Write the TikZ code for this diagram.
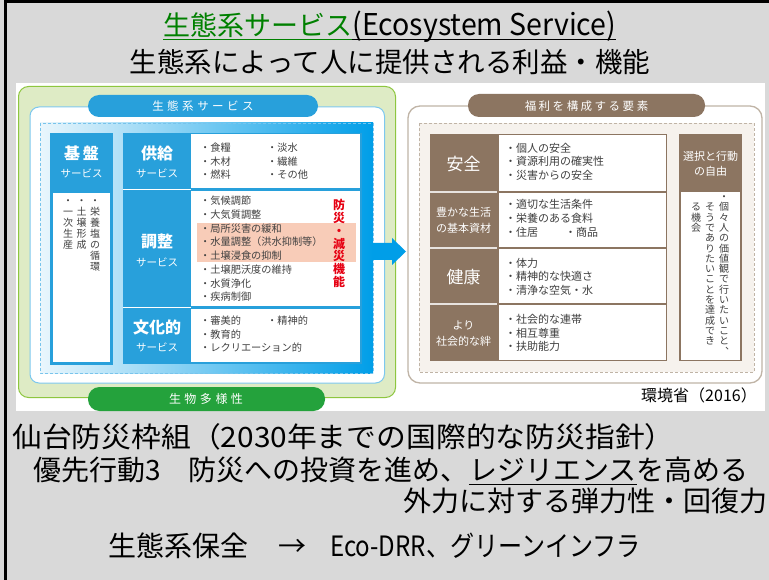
\documentclass[tikz,border=0pt]{standalone}
\usepackage{fontspec}
\setmainfont{Noto Sans CJK JP}
\usetikzlibrary{calc}
\definecolor{slidegray}{RGB}{217,217,217}
\definecolor{ttlgreen}{RGB}{0,128,0}
\definecolor{pgreenfill}{RGB}{222,235,197}
\definecolor{pgreenline}{RGB}{141,198,63}
\definecolor{esblue}{RGB}{40,160,219}
\definecolor{esdeep}{RGB}{0,158,232}
\definecolor{eslight}{RGB}{234,246,252}
\definecolor{esdash}{RGB}{120,196,236}
\definecolor{esline}{RGB}{125,200,238}
\definecolor{bioGreen}{RGB}{36,162,60}
\definecolor{brn}{RGB}{140,117,97}
\definecolor{brnline}{RGB}{192,180,166}
\definecolor{brnfill}{RGB}{246,242,237}
\definecolor{pinkhl}{RGB}{248,204,184}
\definecolor{redtxt}{RGB}{230,0,18}
\definecolor{txtgray}{RGB}{64,64,64}
\newcommand\ls{\hspace{3.5pt}}
\tikzset{
  lbl/.style={inner sep=0pt, font=\bfseries\fontsize{16}{18}\selectfont, text=white},
  sublbl/.style={inner sep=0pt, font=\fontsize{10.5}{12}\selectfont, text=white},
  item/.style={inner sep=0pt, anchor=west, font=\fontsize{10.2}{12}\selectfont, text=txtgray, text height=9pt, text depth=1.2pt},
  ritem/.style={inner sep=0pt, anchor=west, font=\fontsize{11}{13}\selectfont, text=txtgray, text height=9.7pt, text depth=1.3pt},
  rlbl/.style={inner sep=0pt, font=\fontsize{17}{19}\selectfont, text=white},
  rlbs/.style={inner sep=0pt, align=center, font=\fontsize{11}{15.5}\selectfont, text=white},
  vst/.style={inner sep=0pt, anchor=north, align=center, font=\fontsize{10}{11}\selectfont, text=txtgray},
  vstb/.style={inner sep=0pt, anchor=north, align=center, font=\fontsize{10}{10.3}\selectfont, text=txtgray},
  tabtxt/.style={inner sep=0pt, font=\fontsize{11.5}{13}\selectfont, text=white},
  big/.style={inner sep=0pt, font=\fontsize{28}{32}\selectfont, text=black},
}
\begin{document}
\begin{tikzpicture}[x=1pt,y=-1pt]
\useasboundingbox (0,0) rectangle (769,580);
\fill[slidegray] (0,0) rectangle (769,580);
\draw[line width=2.5pt] (5.3,580) -- (5.3,1.5) -- (769,1.5);

% title
\node[inner sep=0pt, anchor=base west, font=\fontsize{27}{30}\selectfont, text=ttlgreen] (t1a) at (163,35.3) {生態系サービス};
\node[inner sep=0pt, anchor=base west, font=\fontsize{30}{32}\selectfont] (t1b) at (t1a.base east) {\scalebox{0.95}[1]{(Ecosystem Service)}};
\draw[ttlgreen, line width=1.3pt] ($(t1a.base west)+(0,4.5)$) -- ($(t1a.base east)+(0,4.5)$);
\draw[black, line width=1.3pt] ($(t1b.base west)+(0,4.5)$) -- ($(t1b.base east)+(0,4.5)$);
\node[inner sep=0pt, anchor=base, font=\fontsize{27.5}{30}\selectfont] (t2) at (390,72.5) {生態系によって人に提供される利益・機能};

% embedded figure background
\fill[white] (16,83) rectangle (765,411);

% ---------- left panel ----------
\filldraw[fill=pgreenfill, draw=pgreenline, line width=1pt, rounded corners=10pt] (18.5,86.5) rectangle (395.5,397.5);
\filldraw[fill=white, draw=esline, line width=1pt, rounded corners=9pt] (30,107) rectangle (384.5,383);
\fill[esblue, rounded corners=11pt] (88,95) rectangle (318,117);
\node[tabtxt] (tabES) at (203,106) {生\ls 態\ls 系\ls サ\ls ー\ls ビ\ls ス};

\fill[left color=eslight, right color=esdeep] (40,123) rectangle (373,373);
\draw[esdash, line width=0.8pt, dash pattern=on 3pt off 2pt] (40,123) rectangle (373,373);

% kiban column
\fill[esblue] (50,133) rectangle (113,365);
\fill[white] (53,193) rectangle (110,362);
\node[lbl] (kiban) at (81.5,153) {基\hspace{3pt}盤};
\node[sublbl] (kiban2) at (81.5,173.5) {サービス};
\node[vst] (k1) at (95,196) {\vphantom{栄}・\\栄\\養\\塩\\の\\循\\環};
\node[vst] (k2) at (81.5,196) {\vphantom{栄}・\\土\\壌\\形\\成};
\node[vst] (k3) at (68,196) {\vphantom{栄}・\\一\\次\\生\\産};

% big block
\fill[esblue] (123,133) rectangle (362,364);
\fill[white] (191,134.5) rectangle (360,188);
\fill[white] (191,191) rectangle (360,306);
\fill[white] (191,309) rectangle (360,361.5);
\draw[white, line width=1.5pt] (123,189.5) -- (191,189.5);
\draw[white, line width=1.5pt] (123,307.5) -- (191,307.5);
\fill[pinkhl] (197,223.5) rectangle (356,262);

\node[lbl] (kyo) at (157,153) {供給};
\node[sublbl] (kyo2) at (157,173) {サービス};
\node[lbl] (cho) at (157,241) {調整};
\node[sublbl] (cho2) at (157,262) {サービス};
\node[lbl] (bun) at (157,327) {文化的};
\node[sublbl] (bun2) at (157,347) {サービス};

\node[item] (s1) at (200,148) {・食糧};
\node[item] (s2) at (200,161.5) {・木材};
\node[item] (s3) at (200,175) {・燃料};
\node[item] (s4) at (267,148) {・淡水};
\node[item] (s5) at (267,161.5) {・繊維};
\node[item] (s6) at (267,175) {・その他};

\node[item] (r1) at (200,201) {・気候調節};
\node[item] (r2) at (200,214.7) {・大気質調整};
\node[item] (r3) at (200,228.4) {・局所災害の緩和};
\node[item] (r4) at (200,242.1) {・水量調整（洪水抑制等）};
\node[item] (r5) at (200,255.8) {・土壌浸食の抑制};
\node[item] (r6) at (200,269.5) {・土壌肥沃度の維持};
\node[item] (r7) at (200,283.2) {・水質浄化};
\node[item] (r8) at (200,296.9) {・疾病制御};
\node[inner sep=0pt, anchor=north, align=center, font=\bfseries\fontsize{12}{12.7}\selectfont, text=redtxt] (bousai) at (339,199.5) {防\\災\\・\\減\\災\\機\\能};

\node[item] (c1) at (200,321) {・審美的};
\node[item] (c2) at (267,321) {・精神的};
\node[item] (c3) at (200,334.5) {・教育的};
\node[item] (c4) at (200,348) {・レクリエーション的};

% arrow
\fill[esdeep] (372,243) -- (392,243) -- (392,238) -- (406,251.5) -- (392,265) -- (392,260) -- (372,260) -- cycle;

% biodiversity tab
\fill[bioGreen, rounded corners=11.5pt] (88,387) rectangle (325,411);
\node[tabtxt, font=\fontsize{12}{13}\selectfont] (bio) at (206,399) {生\ls 物\ls 多\ls 様\ls 性};

% ---------- right panel ----------
\filldraw[fill=white, draw=brnline, line width=1.3pt, rounded corners=12pt] (408,106) rectangle (762,383);
\fill[brn, rounded corners=11pt] (468,94) rectangle (705,117);
\node[tabtxt] (tabWB) at (586.5,106) {福\hspace{2.5pt}利\hspace{2.5pt}を\hspace{2.5pt}構\hspace{2.5pt}成\hspace{2.5pt}す\hspace{2.5pt}る\hspace{2.5pt}要\hspace{2.5pt}素};
\filldraw[fill=brnfill, draw=brnline, line width=0.9pt, dash pattern=on 3pt off 2pt] (419,123) rectangle (754,372);

\fill[brn] (430,134) rectangle (667,361);
\fill[white] (498.5,135.5) rectangle (665.5,191);
\fill[white] (498.5,193) rectangle (665.5,247);
\fill[white] (498.5,249) rectangle (665.5,303);
\fill[white] (498.5,305) rectangle (665.5,359.5);
\draw[white!80!brn, line width=1.4pt] (430,192) -- (497,192);
\draw[white!80!brn, line width=1.4pt] (430,248) -- (497,248);
\draw[white!80!brn, line width=1.4pt] (430,304) -- (497,304);

\node[rlbl] (anz) at (463.5,164) {安全};
\node[rlbs] (yut) at (463.5,220.5) {豊かな生活\\の基本資材};
\node[rlbl] (ken) at (463.5,277) {健康};
\node[rlbs] (yor) at (463.5,333.5) {より\\社会的な絆};

\node[ritem] (a1) at (505,148) {・個人の安全};
\node[ritem] (a2) at (505,161.5) {・資源利用の確実性};
\node[ritem] (a3) at (505,175) {・災害からの安全};
\node[ritem] (b1) at (505,204) {・適切な生活条件};
\node[ritem] (b2) at (505,218) {・栄養のある食料};
\node[ritem] (b3) at (505,232) {・住居};
\node[ritem] (b4) at (565,232) {・商品};
\node[ritem] (h1) at (505,263) {・体力};
\node[ritem] (h2) at (505,276.5) {・精神的な快適さ};
\node[ritem] (h3) at (505,290) {・清浄な空気・水};
\node[ritem] (y1) at (505,319) {・社会的な連帯};
\node[ritem] (y2) at (505,333) {・相互尊重};
\node[ritem] (y3) at (505,346.5) {・扶助能力};

\fill[brn] (679,134) rectangle (742,361);
\fill[white] (681,192) rectangle (740,359.5);
\node[rlbs, font=\fontsize{11}{14.5}\selectfont] (sen) at (710.5,164) {選択と行動\\の自由};
\node[vstb] (v1) at (724,192) {\vphantom{個}・\\個\\々\\人\\の\\価\\値\\観\\で\\行\\い\\た\\い\\こ\\と\\︑};
\node[vstb] (v2) at (710,202.3) {\vphantom{個}そ\\う\\で\\あ\\り\\た\\い\\こ\\と\\を\\達\\成\\で\\き};
\node[vstb] (v3) at (696,202.3) {\vphantom{個}る\\機\\会};

\node[inner sep=0pt, font=\fontsize{16}{18}\selectfont] (src) at (699,395) {環境省（2016）};

% ---------- bottom text ----------
\node[big, anchor=base west] (l1) at (12,447.6) {\scalebox{1.065}[1]{仙台防災枠組（2030年までの国際的な防災指針）}};
\node[big, anchor=base west] (l2a) at (33,480) {優先行動3　防災への投資を進め、};
\node[big, anchor=base west] (l2b) at (l2a.base east) {レジリエンス};
\node[big, anchor=base west] (l2c) at (l2b.base east) {を高める};
\draw[line width=1.3pt] ($(l2b.base west)+(0,4.5)$) -- ($(l2b.base east)+(0,4.5)$);
\node[big, anchor=base west] (l3) at (403,511) {外力に対する弾力性・回復力};
\node[big, anchor=base west] (l4a) at (108,556.6) {生態系保全};
\node[big, anchor=base] (l4b) at (292,556.6) {→};
\node[big, anchor=base west] (l4c) at (330,556.6) {\scalebox{0.86}[1]{Eco-DRR、グリーンインフラ}};
\end{tikzpicture}
\end{document}
